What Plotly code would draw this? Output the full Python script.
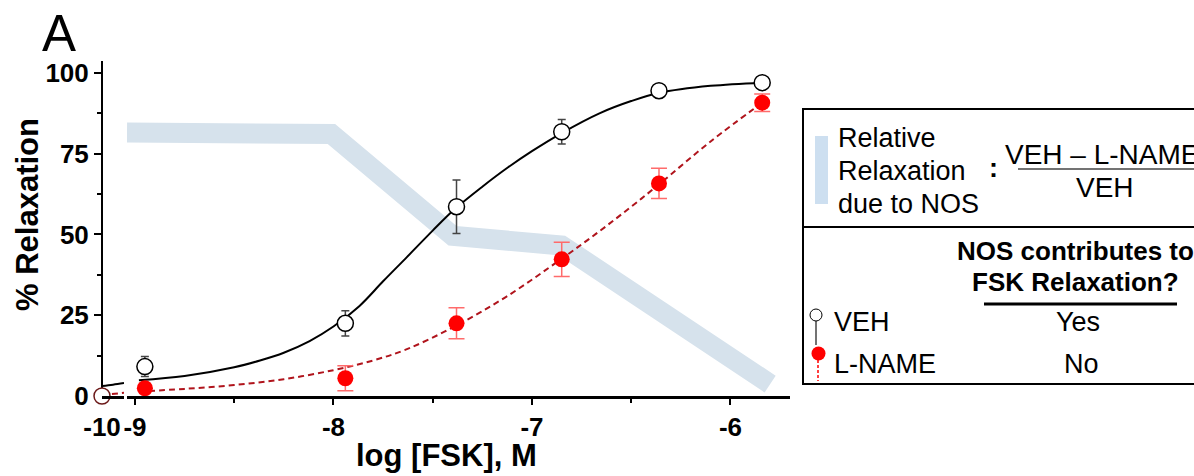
import plotly.graph_objects as go

# ---------------- data ----------------
# log[FSK] concentrations of the measured points (main axis segment)
x_conc = [-8.95, -7.94, -7.38, -6.85, -6.36, -5.84]
veh_mean = [9.1, 22.5, 58.6, 81.8, 94.5, 97.0]
veh_sem = [3.1, 3.9, 8.3, 3.8, 0.0, 0.0]
lname_mean = [2.4, 5.5, 22.5, 42.3, 65.8, 90.8]
lname_sem = [0.0, 3.9, 4.8, 5.3, 4.7, 2.7]

# control point plotted on the broken (first) axis segment at log = -10
ctrl_x = [-10]
veh_ctrl = [0.0]
lname_ctrl = [0.0]

# fitted curves
veh_fit_x = [-8.98, -8.75, -8.50, -8.37, -8.25, -8.12, -8.00, -7.87, -7.75, -7.63, -7.50, -7.39,
             -7.25, -7.12, -7.00, -6.85, -6.66, -6.50, -6.36, -6.10, -5.84]
veh_fit_y = [4.9, 6.2, 8.9, 11.0, 13.4, 17.0, 21.5, 27.8, 35.5, 43.0, 51.2, 57.8,
             64.8, 70.8, 75.8, 81.4, 87.5, 91.3, 93.8, 96.0, 97.0]
lname_fit_x = [-8.98, -8.75, -8.50, -8.25, -8.00, -7.80, -7.63, -7.39, -7.13,
               -6.85, -6.66, -6.50, -6.36, -6.10, -5.84]
lname_fit_y = [1.4, 2.2, 3.4, 5.2, 8.0, 11.0, 14.5, 21.5, 30.7,
               42.5, 51.0, 58.6, 65.5, 78.8, 90.8]
# fitted curves on the first axis segment
seg1_fit_x = [-10.0, -9.94, -9.88]
seg1_veh_y = [3.1, 3.5, 4.0]
seg1_lname_y = [0.3, 0.6, 1.0]

# "relative relaxation due to NOS" band
band_x = [-9.04, -8.01, -7.40, -6.85, -5.80]
band_y = [81.6, 81.1, 49.6, 46.6, 3.7]

# axis ticks
x_tickvals = [-9, -8, -7, -6]
x_ticktext = ["-9", "-8", "-7", "-6"]
x_minor = [-8.5, -7.5, -6.5]
y_tickvals = [0, 25, 50, 75, 100]

# ---------------- layout helpers ----------------
W_FIG, H_FIG = 1194, 476
ML, MR, MT, MB = 102, 0, 61, 80
PW = W_FIG - ML - MR
PH = H_FIG - MT - MB


def px(x):
    return (x - ML) / PW


def py(y):
    return (MT + PH - y) / PH


FONT = "Liberation Sans, Arial, sans-serif"
RED = "#ff0000"
DARKRED = "#b0141c"

fig = go.Figure()

# band
fig.add_trace(go.Scatter(x=band_x, y=band_y, mode="lines", xaxis="x", yaxis="y",
                         line=dict(color="#d6e2ec", width=20), hoverinfo="skip"))

# curves, first segment
fig.add_trace(go.Scatter(x=seg1_fit_x, y=seg1_lname_y, mode="lines", xaxis="x2", yaxis="y",
                         line=dict(color=DARKRED, width=2, dash="6px,4px")))
fig.add_trace(go.Scatter(x=seg1_fit_x, y=seg1_veh_y, mode="lines", xaxis="x2", yaxis="y",
                         line=dict(color="black", width=2, shape="spline")))
# curves, main segment
fig.add_trace(go.Scatter(x=lname_fit_x, y=lname_fit_y, mode="lines", xaxis="x", yaxis="y",
                         line=dict(color=DARKRED, width=2, dash="6px,4px", shape="spline")))
fig.add_trace(go.Scatter(x=veh_fit_x, y=veh_fit_y, mode="lines", xaxis="x", yaxis="y",
                         line=dict(color="black", width=2, shape="spline")))

# points with error bars
fig.add_trace(go.Scatter(x=x_conc, y=lname_mean, mode="markers", xaxis="x", yaxis="y",
                         marker=dict(size=16, color=RED, line=dict(width=0)),
                         error_y=dict(type="data", array=lname_sem, color="#ff6b6b",
                                      thickness=1.5, width=8),
                         cliponaxis=False))
fig.add_trace(go.Scatter(x=x_conc, y=veh_mean, mode="markers", xaxis="x", yaxis="y",
                         marker=dict(size=16, color="white", line=dict(width=1.5, color="black")),
                         error_y=dict(type="data", array=veh_sem, color="#444444",
                                      thickness=1.5, width=4),
                         cliponaxis=False))
# control points at -10
fig.add_trace(go.Scatter(x=ctrl_x, y=lname_ctrl, mode="markers", xaxis="x2", yaxis="y",
                         marker=dict(size=16, color=RED), cliponaxis=False))
fig.add_trace(go.Scatter(x=ctrl_x, y=veh_ctrl, mode="markers", xaxis="x2", yaxis="y",
                         marker=dict(size=16, color="white", line=dict(width=1.5, color="#6b1a1a")),
                         cliponaxis=False))

tickfont = dict(family=FONT, size=26, color="black", weight="bold")

fig.update_layout(
    width=W_FIG, height=H_FIG,
    margin=dict(l=ML, r=MR, t=MT, b=MB),
    paper_bgcolor="white", plot_bgcolor="white",
    showlegend=False,
    font=dict(family=FONT, color="black"),
    xaxis=dict(domain=[px(127), px(790)], range=[-9.04, -5.70], anchor="y",
               showline=True, linecolor="black", linewidth=3,
               showgrid=False, zeroline=False,
               tickmode="array", tickvals=x_tickvals, ticktext=x_ticktext,
               ticks="outside", ticklen=6, tickwidth=2, tickcolor="black",
               minor=dict(tickmode="array", tickvals=x_minor, ticks="outside",
                          ticklen=4, tickwidth=2, tickcolor="black"),
               tickfont=tickfont),
    xaxis2=dict(domain=[0, px(124)], range=[-10, -9.88], anchor="y",
                showline=True, linecolor="black", linewidth=3,
                showgrid=False, zeroline=False,
                tickmode="array", tickvals=ctrl_x, ticktext=["-10"],
                ticks="outside", ticklen=6, tickwidth=2, tickcolor="rgba(0,0,0,0)",
                tickfont=tickfont),
    yaxis=dict(domain=[0, 1], range=[0, 103.7], anchor="free", position=0,
               showline=True, linecolor="black", linewidth=2,
               showgrid=False, zeroline=False,
               tickmode="array", tickvals=y_tickvals,
               ticks="outside", ticklen=7, tickwidth=2, tickcolor="black",
               minor=dict(dtick=12.5, tick0=0, ticks="outside", ticklen=4,
                          tickwidth=1.5, tickcolor="black"),
               tickfont=tickfont),
)

shapes = []
BOXR = px(1230)
# legend box
shapes.append(dict(type="rect", xref="paper", yref="paper", x0=px(803), x1=BOXR,
                   y0=py(384), y1=py(109), line=dict(color="black", width=2)))
shapes.append(dict(type="line", xref="paper", yref="paper", x0=px(803), x1=BOXR,
                   y0=py(227), y1=py(227), line=dict(color="black", width=2)))
# band icon
shapes.append(dict(type="rect", xref="paper", yref="paper", x0=px(815), x1=px(828),
                   y0=py(204), y1=py(136), fillcolor="#cddff0", line=dict(width=0)))
# fraction bar
shapes.append(dict(type="line", xref="paper", yref="paper", x0=px(1018), x1=BOXR,
                   y0=py(169), y1=py(169), line=dict(color="#444444", width=1.5)))
# rule under header
shapes.append(dict(type="line", xref="paper", yref="paper", x0=px(984), x1=px(1177),
                   y0=py(304), y1=py(304), line=dict(color="black", width=3)))
# VEH icon
shapes.append(dict(type="line", xref="paper", yref="paper", x0=px(816), x1=px(816),
                   y0=py(321), y1=py(345), line=dict(color="#444444", width=1.5)))
shapes.append(dict(type="circle", xref="paper", yref="paper", x0=px(810), x1=px(822),
                   y0=py(321), y1=py(309), fillcolor="white", line=dict(color="black", width=1)))
# L-NAME icon
shapes.append(dict(type="line", xref="paper", yref="paper", x0=px(818), x1=px(818),
                   y0=py(360), y1=py(381), line=dict(color=RED, width=1.5, dash="3px,2px")))
shapes.append(dict(type="circle", xref="paper", yref="paper", x0=px(811.5), x1=px(825.5),
                   y0=py(360.5), y1=py(346.5), fillcolor=RED, line=dict(width=0)))
fig.update_layout(shapes=shapes)


def ann(text, x, y, size, xanchor="center", bold=False, angle=0, align="center", color="black"):
    return dict(text=text, x=px(x), y=py(y), xref="paper", yref="paper",
                xanchor=xanchor, yanchor="middle", showarrow=False, textangle=angle,
                align=align,
                font=dict(family=FONT, size=size, color=color,
                          weight="bold" if bold else "normal"))


annotations = [
    ann("A", 40, 34, 51, xanchor="left"),
    ann("% Relaxation", 27, 215, 31, bold=True, angle=-90),
    ann("log [FSK], M", 446, 455, 31, bold=True),
    ann("Relative", 836, 138, 27, xanchor="left"),
    ann("Relaxation", 836, 171, 27, xanchor="left"),
    ann("due to NOS", 836, 204, 27, xanchor="left"),
    ann(":", 993, 168, 27, bold=True),
    ann("VEH \u2013 L-NAME", 1003, 154, 28, xanchor="left"),
    ann("VEH", 1105, 187, 28),
    ann("NOS contributes to", 955, 251, 26, xanchor="left", bold=True),
    ann("FSK Relaxation?", 970, 282, 26, xanchor="left", bold=True),
    ann("VEH", 832, 322, 27, xanchor="left"),
    ann("L-NAME", 832, 364, 27, xanchor="left"),
    ann("Yes", 1078, 322, 27),
    ann("No", 1081, 364, 27),
]
fig.update_layout(annotations=annotations)

fig.write_html("out.html", config={"displayModeBar": False},
               post_script="document.body.style.margin='0';document.body.style.overflow='hidden';")
